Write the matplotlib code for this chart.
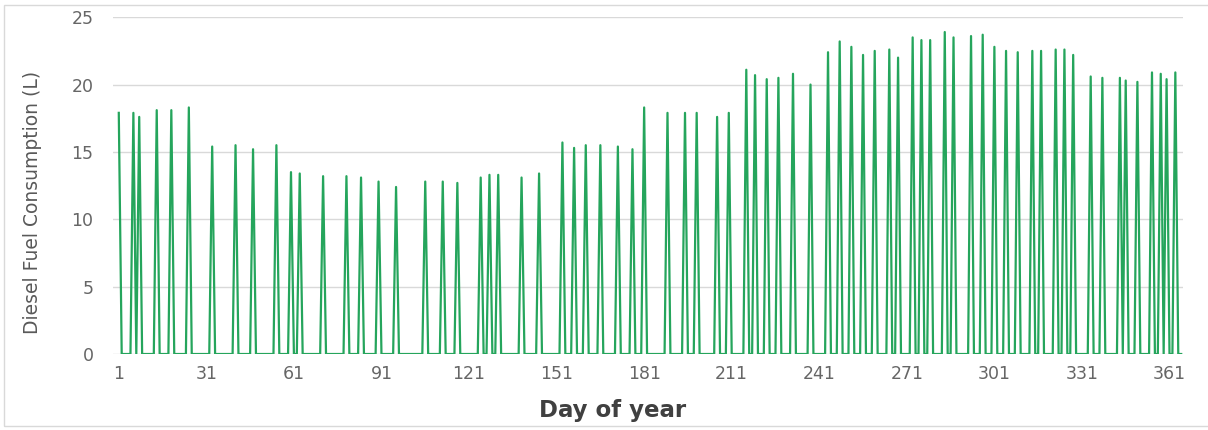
import numpy as np
import matplotlib.pyplot as plt
from matplotlib.patches import Rectangle

# days with fuel use (all other days are 0 L)
spike_days = [1, 6, 8, 14, 19, 25, 33, 41, 47, 55, 60, 63, 71, 79, 84, 90,
              96, 106, 112, 117, 125, 128, 131, 139, 145, 153, 157, 161, 166,
              172, 177, 181, 189, 195, 199, 206, 210, 216, 219, 223, 227, 232,
              238, 244, 248, 252, 256, 260, 265, 268, 273, 276, 279, 284, 287,
              293, 297, 301, 305, 309, 314, 317, 322, 325, 328, 334, 338, 344,
              346, 350, 355, 358, 360, 363]
spike_values = [17.9, 17.9, 17.6, 18.1, 18.1, 18.3, 15.4, 15.5, 15.2, 15.5,
                13.5, 13.4, 13.2, 13.2, 13.1, 12.8, 12.4, 12.8, 12.8, 12.7,
                13.1, 13.3, 13.3, 13.1, 13.4, 15.7, 15.3, 15.5, 15.5, 15.4,
                15.2, 18.3, 17.9, 17.9, 17.9, 17.6, 17.9, 21.1, 20.7, 20.4,
                20.5, 20.8, 20.0, 22.4, 23.2, 22.8, 22.2, 22.5, 22.6, 22.0,
                23.5, 23.3, 23.3, 23.9, 23.5, 23.6, 23.7, 22.8, 22.5, 22.4,
                22.5, 22.5, 22.6, 22.6, 22.2, 20.6, 20.5, 20.5, 20.3, 20.2,
                20.9, 20.8, 20.4, 20.9]
tick_days = list(range(1, 366, 30))
n_days = 365

days = np.arange(1, n_days + 1)
fuel = np.zeros(n_days)
fuel[np.array(spike_days) - 1] = spike_values

fig = plt.figure(figsize=(12.08, 4.30), dpi=100)
ax = fig.add_axes([0.0935, 0.1767, 0.8855, 0.7833])

ax.plot(days, fuel, color='#25a55c', lw=1.6, zorder=3)

ax.set_xlim(-1, 365.5)
ax.set_ylim(0, 25)
ax.set_yticks([0, 5, 10, 15, 20, 25])
ax.set_xticks(tick_days)
ax.grid(axis='y', color='#d9d9d9', lw=1)
ax.set_axisbelow(True)
for s in ax.spines.values():
    s.set_visible(False)
ax.tick_params(axis='both', length=0, labelsize=12.5, labelcolor='#666666')
ax.tick_params(axis='y', pad=14)
ax.tick_params(axis='x', pad=8)

fig.text(0.0265, 0.529, 'Diesel Fuel Consumption (L)', rotation=90,
         ha='center', va='center', fontsize=13.5, color='#595959')
fig.text(613 / 1208, 1 - 410 / 430, 'Day of year', ha='center', va='center',
         fontsize=16.5, fontweight='bold', color='#404040')

# light chart-area border
fig.patches.append(Rectangle((0.003, 0.01), 1.2, 0.978, transform=fig.transFigure,
                             fill=False, edgecolor='#d9d9d9', lw=1))

fig.savefig('out.png', dpi=100)
